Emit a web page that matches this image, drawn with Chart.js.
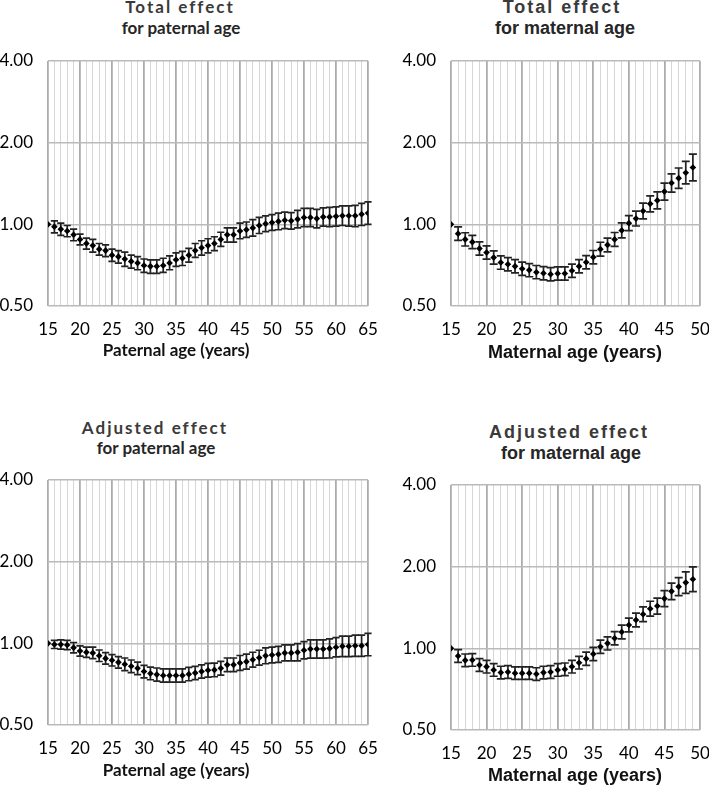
<!DOCTYPE html>
<html>
<head>
  <meta charset="UTF-8">
  <title>Total and adjusted effect of parental age</title>
  <script src="https://cdn.jsdelivr.net/npm/chart.js"></script>
  <style>
    html, body { margin: 0; padding: 0; background: #fff; }
    body { position: relative; width: 709px; height: 785px; overflow: hidden; }
    canvas { position: absolute; }
    .lbl { position: absolute; width: 300px; text-align: center; line-height: 20px; white-space: nowrap; font-weight: bold; }
    .cal { font-family: Lato, "Noto Sans", sans-serif; font-size: 17px; }
    .ari { font-family: "Liberation Sans", Arial, sans-serif; font-size: 18px; }
    .head { letter-spacing: 2px; color: #3a3a3a; }
    .sub { color: #262626; }
    .axt { color: #111; }
  </style>
</head>
<body>
  <div class="lbl cal head" style="left:30px;top:-3px">Total effect</div>
  <div class="lbl cal sub" style="left:31px;top:18px">for paternal age</div>
  <div class="lbl ari head" style="left:412px;top:-3px">Total effect</div>
  <div class="lbl ari sub" style="left:415px;top:18px">for maternal age</div>
  <div class="lbl cal head" style="left:5px;top:418px">Adjusted effect</div>
  <div class="lbl cal sub" style="left:6px;top:438px">for paternal age</div>
  <div class="lbl ari head" style="left:419px;top:422px">Adjusted effect</div>
  <div class="lbl ari sub" style="left:421px;top:443px">for maternal age</div>

  <canvas id="patTotalChart" width="380" height="330" style="left:0px;top:40px"></canvas>
  <canvas id="matTotalChart" width="309" height="330" style="left:400px;top:40px"></canvas>
  <canvas id="patAdjChart" width="380" height="330" style="left:0px;top:459px"></canvas>
  <canvas id="matAdjChart" width="309" height="330" style="left:400px;top:464px"></canvas>

  <div class="lbl cal axt" style="left:26px;top:340px">Paternal age (years)</div>
  <div class="lbl ari axt" style="left:425px;top:342px">Maternal age (years)</div>
  <div class="lbl cal axt" style="left:26px;top:760px">Paternal age (years)</div>
  <div class="lbl ari axt" style="left:425px;top:765px">Maternal age (years)</div>

  <script>
    // ages (years)
    const paternalAges = [15,16,17,18,19,20,21,22,23,24,25,26,27,28,29,30,31,32,33,34,35,36,37,38,39,40,41,42,43,44,45,46,47,48,49,50,51,52,53,54,55,56,57,58,59,60,61,62,63,64,65];
    const maternalAges = [15,16,17,18,19,20,21,22,23,24,25,26,27,28,29,30,31,32,33,34,35,36,37,38,39,40,41,42,43,44,45,46,47,48,49];
    const yTicks = [0.5, 1, 2, 4];

    // total effect, paternal age
    const patTotal   = [1.00,0.98,0.96,0.945,0.915,0.88,0.85,0.835,0.81,0.80, 0.77,0.76,0.745,0.73,0.72,0.705,0.70,0.70,0.705,0.72, 0.74,0.75,0.77,0.80,0.82,0.835,0.85,0.88,0.915,0.915, 0.945,0.955,0.97,0.99,1.005,1.015,1.025,1.035,1.03,1.045, 1.06,1.06,1.05,1.065,1.065,1.07,1.075,1.075,1.075,1.09,1.10];
    const patTotalLo = [1.00,0.93,0.91,0.90,0.87,0.84,0.81,0.79,0.77,0.76, 0.73,0.72,0.70,0.69,0.68,0.665,0.66,0.66,0.665,0.68, 0.70,0.705,0.725,0.755,0.77,0.785,0.80,0.83,0.86,0.86, 0.885,0.895,0.905,0.925,0.94,0.95,0.955,0.965,0.96,0.97, 0.98,0.98,0.97,0.985,0.98,0.985,0.99,0.985,0.98,0.99,1.00];
    const patTotalHi = [1.00,1.03,1.01,0.99,0.96,0.92,0.89,0.88,0.85,0.84, 0.81,0.80,0.79,0.77,0.76,0.745,0.74,0.74,0.75,0.765, 0.785,0.795,0.815,0.85,0.87,0.885,0.90,0.935,0.97,0.97, 1.01,1.02,1.04,1.06,1.075,1.085,1.10,1.11,1.105,1.125, 1.145,1.145,1.135,1.15,1.155,1.16,1.17,1.17,1.175,1.195,1.21];

    // total effect, maternal age
    const matTotal   = [1.00,0.924,0.88,0.86,0.815,0.787,0.754,0.723,0.713,0.70, 0.686,0.678,0.666,0.66,0.655,0.659,0.659,0.674,0.70,0.725, 0.757,0.81,0.84,0.88,0.95,1.01,1.05,1.12,1.19,1.225, 1.32,1.42,1.48,1.55,1.62];
    const matTotalLo = [1.00,0.873,0.832,0.813,0.77,0.744,0.713,0.683,0.674,0.662, 0.648,0.641,0.63,0.624,0.619,0.623,0.623,0.637,0.662,0.685, 0.715,0.764,0.792,0.83,0.892,0.948,0.986,1.047,1.112,1.14, 1.228,1.315,1.358,1.409,1.446];
    const matTotalHi = [1.00,0.978,0.931,0.91,0.862,0.833,0.798,0.765,0.754,0.741, 0.726,0.717,0.705,0.698,0.693,0.697,0.697,0.713,0.741,0.767, 0.801,0.859,0.89,0.933,1.012,1.076,1.118,1.198,1.273,1.317, 1.419,1.534,1.613,1.705,1.814];

    // adjusted effect, paternal age
    const patAdj   = [1.00,0.99,0.99,0.986,0.964,0.937,0.927,0.922,0.90,0.88, 0.866,0.851,0.837,0.823,0.809,0.787,0.774,0.767,0.761,0.761, 0.761,0.761,0.77,0.778,0.787,0.796,0.798,0.809,0.833,0.833, 0.847,0.856,0.87,0.885,0.90,0.906,0.911,0.922,0.922,0.927, 0.943,0.953,0.953,0.953,0.958,0.967,0.975,0.975,0.98,0.98,0.99];
    const patAdjLo = [1.00,0.957,0.952,0.948,0.922,0.897,0.887,0.878,0.857,0.838, 0.825,0.81,0.793,0.78,0.767,0.746,0.734,0.725,0.719,0.719, 0.719,0.719,0.728,0.735,0.744,0.751,0.753,0.763,0.786,0.786, 0.795,0.804,0.817,0.831,0.841,0.847,0.851,0.862,0.862,0.862, 0.877,0.882,0.882,0.882,0.883,0.891,0.894,0.894,0.895,0.895,0.90];
    const patAdjHi = [1.00,1.025,1.03,1.025,1.007,0.979,0.969,0.968,0.945,0.924, 0.909,0.894,0.883,0.868,0.853,0.83,0.817,0.811,0.805,0.805, 0.805,0.805,0.815,0.823,0.833,0.844,0.846,0.858,0.883,0.883, 0.902,0.912,0.927,0.943,0.963,0.969,0.975,0.987,0.987,0.997, 1.014,1.029,1.029,1.029,1.039,1.049,1.063,1.063,1.073,1.073,1.089];

    // adjusted effect, maternal age
    const matAdj   = [1.00,0.937,0.903,0.906,0.868,0.856,0.832,0.814,0.818,0.81, 0.81,0.81,0.804,0.814,0.818,0.832,0.837,0.856,0.885,0.916, 0.953,1.014,1.043,1.089,1.149,1.219,1.272,1.335,1.40,1.432, 1.525,1.622,1.688,1.747,1.797];
    const matAdjLo = [1.00,0.888,0.856,0.859,0.823,0.811,0.789,0.772,0.775,0.768, 0.768,0.768,0.762,0.772,0.775,0.789,0.793,0.811,0.839,0.866, 0.901,0.958,0.986,1.029,1.084,1.15,1.2,1.254,1.315,1.338, 1.425,1.512,1.563,1.595,1.619];
    const matAdjHi = [1.00,0.989,0.953,0.956,0.916,0.903,0.878,0.859,0.863,0.855, 0.855,0.855,0.848,0.859,0.863,0.878,0.883,0.903,0.934,0.969, 1.008,1.073,1.103,1.152,1.218,1.292,1.348,1.422,1.491,1.532, 1.632,1.74,1.823,1.913,1.995];

    const tickFont = { family: 'Lato, "Noto Sans", sans-serif', size: 17 };

    // draws the CI whiskers from errLo / errHi through the chart scales
    const errorBars = {
      id: 'errorBars',
      beforeDatasetsDraw(chart) {
        const { ctx, scales: { x, y } } = chart;
        const ds = chart.data.datasets[0];
        const cap = ds.capHalf;
        ctx.save();
        ctx.strokeStyle = '#222';
        ctx.lineWidth = 1.7;
        ds.data.forEach((p, i) => {
          const lo = ds.errLo[i], hi = ds.errHi[i];
          if (lo === hi) return;
          const px = x.getPixelForValue(p.x);
          const y1 = y.getPixelForValue(lo);
          const y2 = y.getPixelForValue(hi);
          ctx.beginPath();
          ctx.moveTo(px, y1); ctx.lineTo(px, y2);
          ctx.moveTo(px - cap, y1); ctx.lineTo(px + cap, y1);
          ctx.moveTo(px - cap, y2); ctx.lineTo(px + cap, y2);
          ctx.stroke();
        });
        ctx.restore();
      }
    };

    const makePanel = (id, ages, xMax, vals, lo, hi, yWidth, padRight, capHalf) => {
      const ctx = document.getElementById(id).getContext('2d');
      return new Chart(ctx, {
        type: 'scatter',
        data: {
          datasets: [{
            data: ages.map((a, i) => ({ x: a, y: vals[i] })),
            errLo: lo,
            errHi: hi,
            capHalf,
            pointStyle: 'rectRot',
            pointRadius: 3.3,
            backgroundColor: '#000',
            borderColor: '#000',
            borderWidth: 0,
            showLine: false
          }]
        },
        options: {
          responsive: false,
          animation: false,
          layout: { padding: { top: 21, right: padRight, left: 0, bottom: 0 } },
          plugins: { legend: { display: false }, tooltip: { enabled: false } },
          scales: {
            x: {
              type: 'linear',
              min: 15,
              max: xMax,
              afterFit: (s) => { s.height = 64; s.paddingLeft = 0; s.paddingRight = 0; },
              border: { display: false },
              grid: {
                drawTicks: false,
                color: (c) => (c.tick && c.tick.value % 5 === 0) ? '#acacac' : '#d6d6d6',
                lineWidth: (c) => (c.tick && c.tick.value % 5 === 0) ? 1.8 : 1
              },
              ticks: {
                stepSize: 1,
                maxTicksLimit: 100,
                autoSkip: false,
                maxRotation: 0,
                padding: 13,
                color: '#000',
                font: tickFont,
                callback: (v) => v % 5 === 0 ? String(v) : ''
              }
            },
            y: {
              type: 'logarithmic',
              min: 0.5,
              max: 4,
              afterFit: (s) => { s.width = yWidth; s.paddingTop = 0; s.paddingBottom = 0; },
              afterBuildTicks: (s) => { s.ticks = yTicks.map(v => ({ value: v })); },
              border: { display: false },
              grid: { drawTicks: false, color: '#bababa', lineWidth: 1.5 },
              ticks: {
                padding: 15,
                color: '#000',
                font: tickFont,
                callback: (v) => Number(v).toFixed(2)
              }
            }
          }
        },
        plugins: [errorBars]
      });
    };

    makePanel('patTotalChart', paternalAges, 65, patTotal, patTotalLo, patTotalHi, 48, 12, 3.6);
    makePanel('matTotalChart', maternalAges, 50, matTotal, matTotalLo, matTotalHi, 51, 9, 4);
    makePanel('patAdjChart', paternalAges, 65, patAdj, patAdjLo, patAdjHi, 48, 12, 3.6);
    makePanel('matAdjChart', maternalAges, 50, matAdj, matAdjLo, matAdjHi, 51, 9, 4);
  </script>
</body>
</html>
